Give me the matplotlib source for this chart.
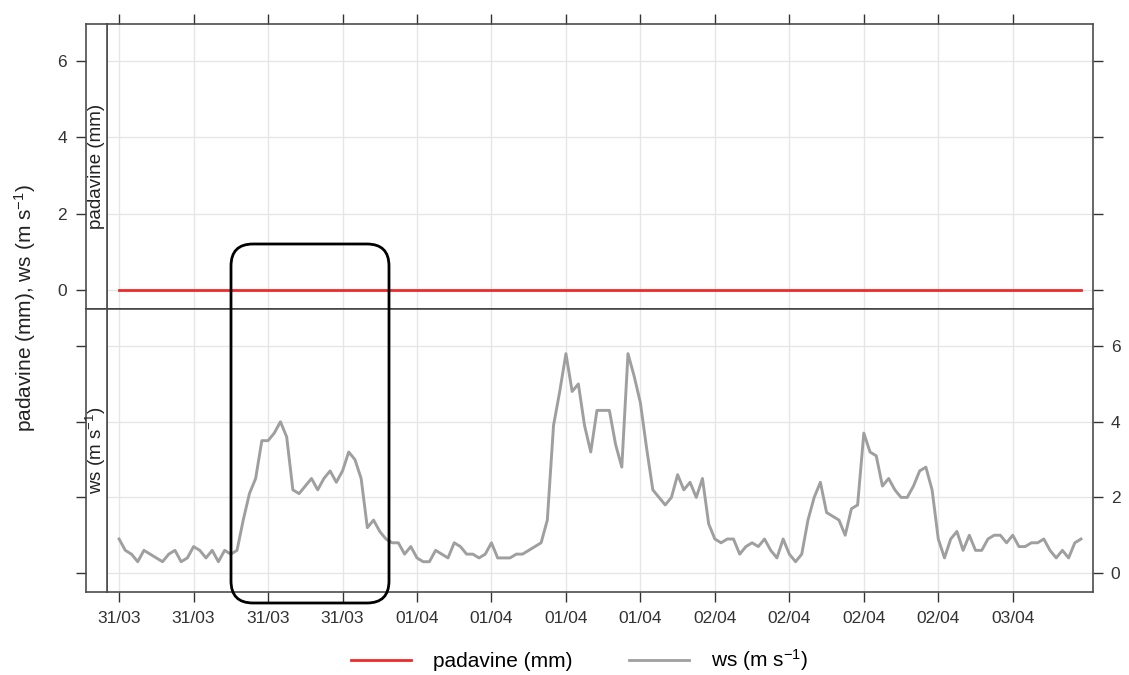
import numpy as np
import pandas as pd
import matplotlib
matplotlib.use("Agg")
import matplotlib.pyplot as plt
import matplotlib.dates as mdates
from matplotlib.patches import FancyBboxPatch

plt.rcParams['font.family'] = ['Liberation Sans', 'DejaVu Sans']
plt.rcParams['mathtext.fontset'] = 'custom'
plt.rcParams['mathtext.rm'] = 'Liberation Sans'
plt.rcParams['mathtext.default'] = 'regular'

# half-hourly wind speed (m/s), 31/03 00:00 onwards
ws = [0.9, 0.6, 0.5, 0.3, 0.6, 0.5, 0.4, 0.3, 0.5, 0.6, 0.3, 0.4, 0.7, 0.6, 0.4, 0.6, 0.3, 0.6, 0.5, 0.6,
      1.4, 2.1, 2.5, 3.5, 3.5, 3.7, 4.0, 3.6, 2.2, 2.1, 2.3, 2.5, 2.2, 2.5, 2.7, 2.4, 2.7, 3.2, 3.0, 2.5,
      1.2, 1.4, 1.1, 0.9, 0.8, 0.8, 0.5, 0.7, 0.4, 0.3, 0.3, 0.6, 0.5, 0.4, 0.8, 0.7, 0.5, 0.5, 0.4, 0.5,
      0.8, 0.4, 0.4, 0.4, 0.5, 0.5, 0.6, 0.7, 0.8, 1.4, 3.9, 4.8, 5.8, 4.8, 5.0, 3.9, 3.2, 4.3, 4.3, 4.3,
      3.4, 2.8, 5.8, 5.2, 4.5, 3.3, 2.2, 2.0, 1.8, 2.0, 2.6, 2.2, 2.4, 2.0, 2.5, 1.3, 0.9, 0.8, 0.9, 0.9,
      0.5, 0.7, 0.8, 0.7, 0.9, 0.6, 0.4, 0.9, 0.5, 0.3, 0.5, 1.4, 2.0, 2.4, 1.6, 1.5, 1.4, 1.0, 1.7, 1.8,
      3.7, 3.2, 3.1, 2.3, 2.5, 2.2, 2.0, 2.0, 2.3, 2.7, 2.8, 2.2, 0.9, 0.4, 0.9, 1.1, 0.6, 1.0, 0.6, 0.6,
      0.9, 1.0, 1.0, 0.8, 1.0, 0.7, 0.7, 0.8, 0.8, 0.9, 0.6, 0.4, 0.6, 0.4, 0.8, 0.9]
padavine = [0.0] * len(ws)
time = pd.date_range("2020-03-31 00:00", periods=len(ws), freq="30min")

x_ticks = pd.date_range("2020-03-31 00:00", "2020-04-03 00:00", freq="6h")
y_ticks = [0, 2, 4, 6]
col_rain = "#ee2a2a"
col_ws = "#9f9f9f"
frame = "#4d4d4d"

fig = plt.figure(figsize=(11.29, 6.75), dpi=100)

left, width = 0.0945, 0.874
s_left, s_width = 0.0759, 0.0186
top_ax = fig.add_axes([left, 0.5422, width, 0.4227])
bot_ax = fig.add_axes([left, 0.1230, width, 0.4192])
top_strip = fig.add_axes([s_left, 0.5422, s_width, 0.4227], sharey=top_ax)
bot_strip = fig.add_axes([s_left, 0.1230, s_width, 0.4192], sharey=bot_ax)

xlim = (time[0] - pd.Timedelta(hours=1), time[0] + pd.Timedelta(hours=78.5))

for ax in (top_ax, bot_ax):
    ax.set_xlim(xlim)
    ax.set_ylim(-0.5, 6.98)
    ax.set_yticks(y_ticks)
    ax.set_xticks(x_ticks)
    ax.xaxis.set_major_formatter(mdates.DateFormatter("%d/%m"))
    ax.grid(True, color="#e6e6e6", lw=1)
    ax.set_axisbelow(True)
    for sp in ax.spines.values():
        sp.set_color(frame)
        sp.set_linewidth(1.2)
    ax.tick_params(colors="#333333", labelcolor="#333333", labelsize=12.5,
                   length=7.5, width=1, direction="out")

top_ax.plot(time, padavine, color=col_rain, lw=2)
bot_ax.plot(time, ws, color=col_ws, lw=2.1)

top_ax.tick_params(axis="x", top=True, labeltop=False, bottom=False, labelbottom=False)
top_ax.tick_params(axis="y", left=False, labelleft=False, right=True, labelright=False)
bot_ax.tick_params(axis="x", top=False, bottom=True, labelbottom=True, pad=6)
bot_ax.tick_params(axis="y", left=False, labelleft=False, right=True, labelright=True, pad=5)
top_ax.spines["bottom"].set_color("black")

for st, lab, show in ((top_strip, "padavine (mm)", True), (bot_strip, "ws (m s$^{-1}$)", False)):
    st.set_xticks([])
    st.tick_params(axis="y", left=True, labelleft=show, colors="#333333", labelcolor="#333333",
                   labelsize=12.5, length=7.5, width=1, pad=6)
    for sp in st.spines.values():
        sp.set_color(frame)
        sp.set_linewidth(1.2)
    st.text(0.5, 0.5, lab, rotation=90, ha="center", va="center", fontsize=13.5,
            color="#222222", transform=st.transAxes)
top_strip.spines["bottom"].set_color("black")

fig.text(0.0221, 0.5437, "padavine (mm), ws (m s$^{-1}$)", rotation=90,
         ha="center", va="center", fontsize=15, color="#222222")

h1, = top_ax.plot([], [], color=col_rain, lw=2)
h2, = bot_ax.plot([], [], color=col_ws, lw=2)
fig.legend([h1, h2], ["padavine (mm)", "ws (m s$^{-1}$)"], loc="center",
           bbox_to_anchor=(0.513, 0.022), ncol=2, frameon=False, fontsize=15,
           handlelength=2.9, handletextpad=1.05, columnspacing=2.7)

# highlight box
box = FancyBboxPatch((2.31, 0.72), 1.58, 3.59, boxstyle="round,pad=0,rounding_size=0.22",
                     transform=fig.dpi_scale_trans, fill=False, ec="black", lw=2, clip_on=False)
fig.add_artist(box)

fig.savefig("out.png", dpi=100)
